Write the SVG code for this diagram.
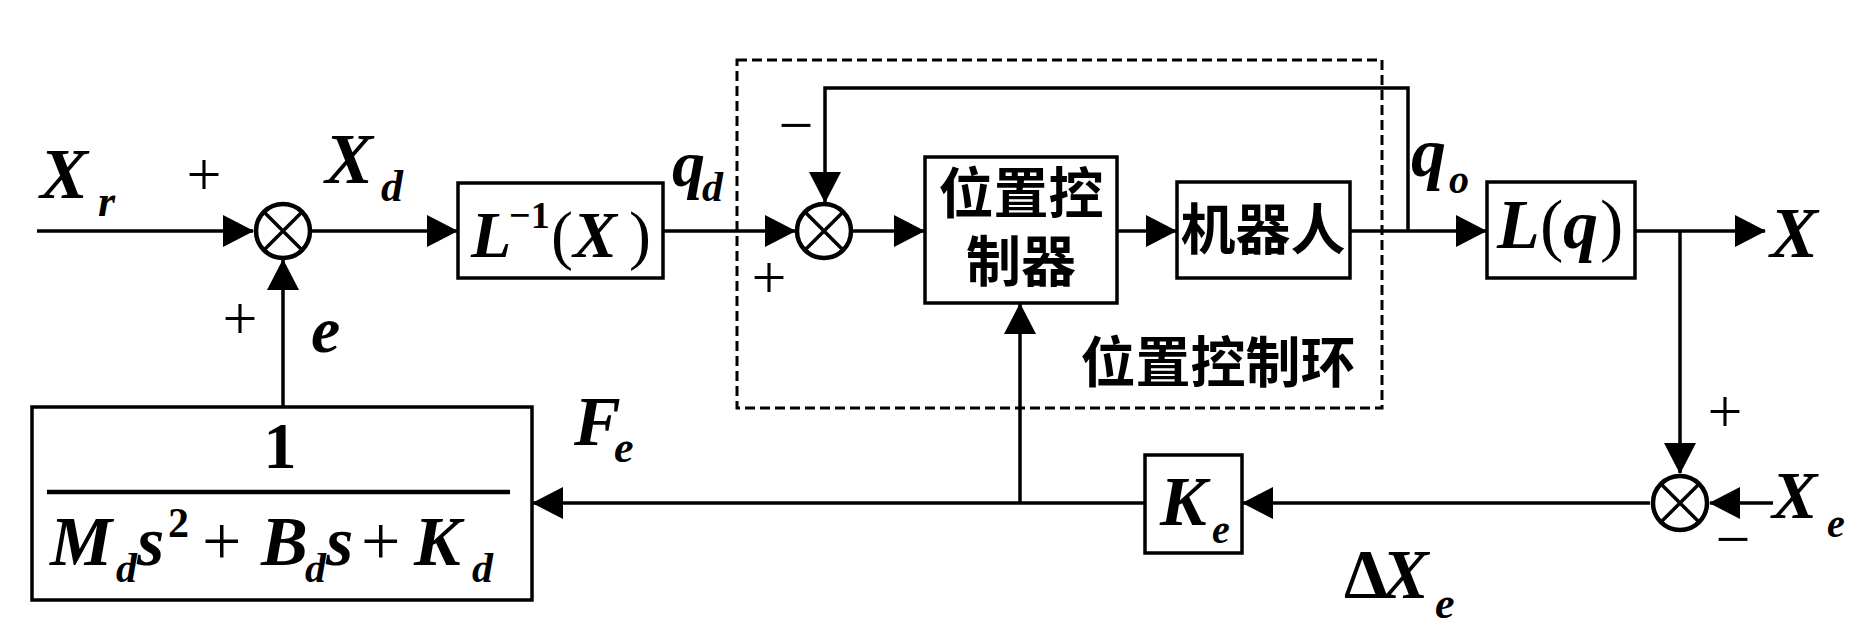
<svg xmlns="http://www.w3.org/2000/svg" width="1865" height="638" viewBox="0 0 1865 638">
  <style>
    .ln { fill: none; stroke: #000; stroke-width: 3.5; }
    .box { fill: #fff; stroke: #000; stroke-width: 3.5; }
    .sum { fill: #fff; stroke: #000; stroke-width: 4.5; }
    .cross { stroke: #000; stroke-width: 3.5; }
    .dash { fill: none; stroke: #000; stroke-width: 3; stroke-dasharray: 10 5; }
    .m { font-family: "Liberation Serif", "Times New Roman", serif; font-weight: bold; font-style: italic; fill: #000; }
    .u { font-family: "Liberation Serif", "Times New Roman", serif; font-weight: bold; fill: #000; }
    .p { font-family: "Liberation Serif", "Times New Roman", serif; font-weight: normal; fill: #000; }
    .cn { font-family: "Noto Sans CJK SC", sans-serif; font-weight: bold; font-size: 55px; fill: #000; text-anchor: middle; }
    .sg { font-family: "Liberation Serif", "Times New Roman", serif; font-size: 62px; fill: #000; text-anchor: middle; }
  </style>
  <defs>
    <marker id="arr" markerUnits="userSpaceOnUse" markerWidth="31" markerHeight="32" refX="30" refY="16" orient="auto">
      <path d="M0,0 L31,16 L0,32 Z" fill="#000"/>
    </marker>
  </defs>

  <!-- dashed position control loop frame -->
  <g id="loop-frame">
    <rect class="dash" x="737" y="60" width="645" height="348"/>
    <text class="cn" x="1218" y="382">位置控制环</text>
  </g>

  <!-- connectors -->
  <g id="connectors">
    <path class="ln" d="M37,231 H253" marker-end="url(#arr)"/>
    <path class="ln" d="M311,231 H457" marker-end="url(#arr)"/>
    <path class="ln" d="M663,231 H795" marker-end="url(#arr)"/>
    <path class="ln" d="M853,231 H924" marker-end="url(#arr)"/>
    <path class="ln" d="M1117,231 H1176" marker-end="url(#arr)"/>
    <path class="ln" d="M1350,231 H1486" marker-end="url(#arr)"/>
    <path class="ln" d="M1408,231 V88 H825 V202" marker-end="url(#arr)"/>
    <path class="ln" d="M1635,231 H1765" marker-end="url(#arr)"/>
    <path class="ln" d="M1680,231 V473" marker-end="url(#arr)"/>
    <path class="ln" d="M1773,503 H1710" marker-end="url(#arr)"/>
    <path class="ln" d="M1650,503 H1243" marker-end="url(#arr)"/>
    <path class="ln" d="M1145,503 H533" marker-end="url(#arr)"/>
    <path class="ln" d="M1020,503 V304" marker-end="url(#arr)"/>
    <path class="ln" d="M283,407 V260" marker-end="url(#arr)"/>
  </g>

  <!-- summing junction 1 -->
  <g id="sum1">
    <circle class="sum" cx="283" cy="231" r="27"/>
    <path class="cross" d="M264,212 L302,250 M302,212 L264,250"/>
  </g>

  <!-- inverse kinematics -->
  <g id="inv-kin">
    <rect class="box" x="458" y="183" width="205" height="95"/>
    <text class="m" font-size="66" x="471" y="257">L</text>
    <text class="u" font-size="38" x="509" y="228">−1</text>
    <text class="p" font-size="66" x="551" y="257">(</text>
    <text class="m" font-size="66" x="573" y="257">X</text>
    <text class="p" font-size="66" x="629" y="257">)</text>
  </g>

  <!-- summing junction 2 -->
  <g id="sum2">
    <circle class="sum" cx="824" cy="231" r="27"/>
    <path class="cross" d="M805,212 L843,250 M843,212 L805,250"/>
  </g>

  <!-- position controller -->
  <g id="controller">
    <rect class="box" x="925" y="157" width="192" height="146"/>
    <text class="cn" x="1021" y="213">位置控</text>
    <text class="cn" x="1021" y="281">制器</text>
  </g>

  <!-- robot -->
  <g id="robot">
    <rect class="box" x="1177" y="182" width="173" height="96"/>
    <text class="cn" x="1263" y="249">机器人</text>
  </g>

  <!-- forward kinematics -->
  <g id="fwd-kin">
    <rect class="box" x="1487" y="182" width="148" height="96"/>
    <text class="m" font-size="70" x="1497" y="248">L</text>
    <text class="p" font-size="70" x="1540" y="248">(</text>
    <text class="m" font-size="70" x="1563" y="248">q</text>
    <text class="p" font-size="70" x="1600" y="248">)</text>
  </g>

  <!-- summing junction 3 -->
  <g id="sum3">
    <circle class="sum" cx="1680" cy="503" r="27"/>
    <path class="cross" d="M1661,484 L1699,522 M1699,484 L1661,522"/>
  </g>

  <!-- environment stiffness -->
  <g id="ke">
    <rect class="box" x="1145" y="455" width="97" height="98"/>
    <text class="m" font-size="70" x="1160" y="525">K</text>
    <text class="m" font-size="40" x="1212" y="543">e</text>
  </g>

  <!-- impedance filter -->
  <g id="impedance">
    <rect class="box" x="32" y="407" width="500" height="193"/>
    <text class="u" font-size="66" x="280" y="468" text-anchor="middle">1</text>
    <line x1="47" y1="492" x2="510" y2="492" stroke="#000" stroke-width="4.5"/>
    <text class="m" font-size="70" x="50" y="565">M</text>
    <text class="m" font-size="42" x="116" y="582">d</text>
    <text class="m" font-size="70" x="137" y="565">s</text>
    <text class="u" font-size="42" x="168" y="537">2</text>
    <text class="p" font-size="70" x="202" y="565">+</text>
    <text class="m" font-size="70" x="261" y="565">B</text>
    <text class="m" font-size="42" x="305" y="582">d</text>
    <text class="m" font-size="70" x="326" y="565">s</text>
    <text class="p" font-size="70" x="361" y="565">+</text>
    <text class="m" font-size="70" x="414" y="565">K</text>
    <text class="m" font-size="42" x="472" y="582">d</text>
  </g>

  <!-- signal labels -->
  <g id="labels">
    <text class="m" font-size="72" x="40" y="198">X</text>
    <text class="m" font-size="44" x="98" y="216">r</text>
    <text class="m" font-size="72" x="325" y="183">X</text>
    <text class="m" font-size="44" x="381" y="201">d</text>
    <text class="m" font-size="66" x="672" y="186">q</text>
    <text class="m" font-size="42" x="702" y="201">d</text>
    <text class="m" font-size="70" x="1411" y="176">q</text>
    <text class="m" font-size="40" x="1449" y="193">o</text>
    <text class="m" font-size="72" x="1770" y="257">X</text>
    <text class="m" font-size="68" x="1772" y="518">X</text>
    <text class="m" font-size="40" x="1827" y="537">e</text>
    <text class="u" font-size="70" x="1344" y="598">Δ</text>
    <text class="m" font-size="70" x="1382" y="598">X</text>
    <text class="m" font-size="44" x="1435" y="618">e</text>
    <text class="m" font-size="70" x="574" y="445">F</text>
    <text class="m" font-size="44" x="614" y="462">e</text>
    <text class="m" font-size="66" x="311" y="352">e</text>
    <text class="sg" x="204" y="195">+</text>
    <text class="sg" x="240" y="339">+</text>
    <text class="sg" x="769" y="298">+</text>
    <text class="sg" x="1725" y="432">+</text>
    <text class="sg" x="796" y="146">−</text>
    <text class="sg" x="1733" y="560">−</text>
  </g>
</svg>
